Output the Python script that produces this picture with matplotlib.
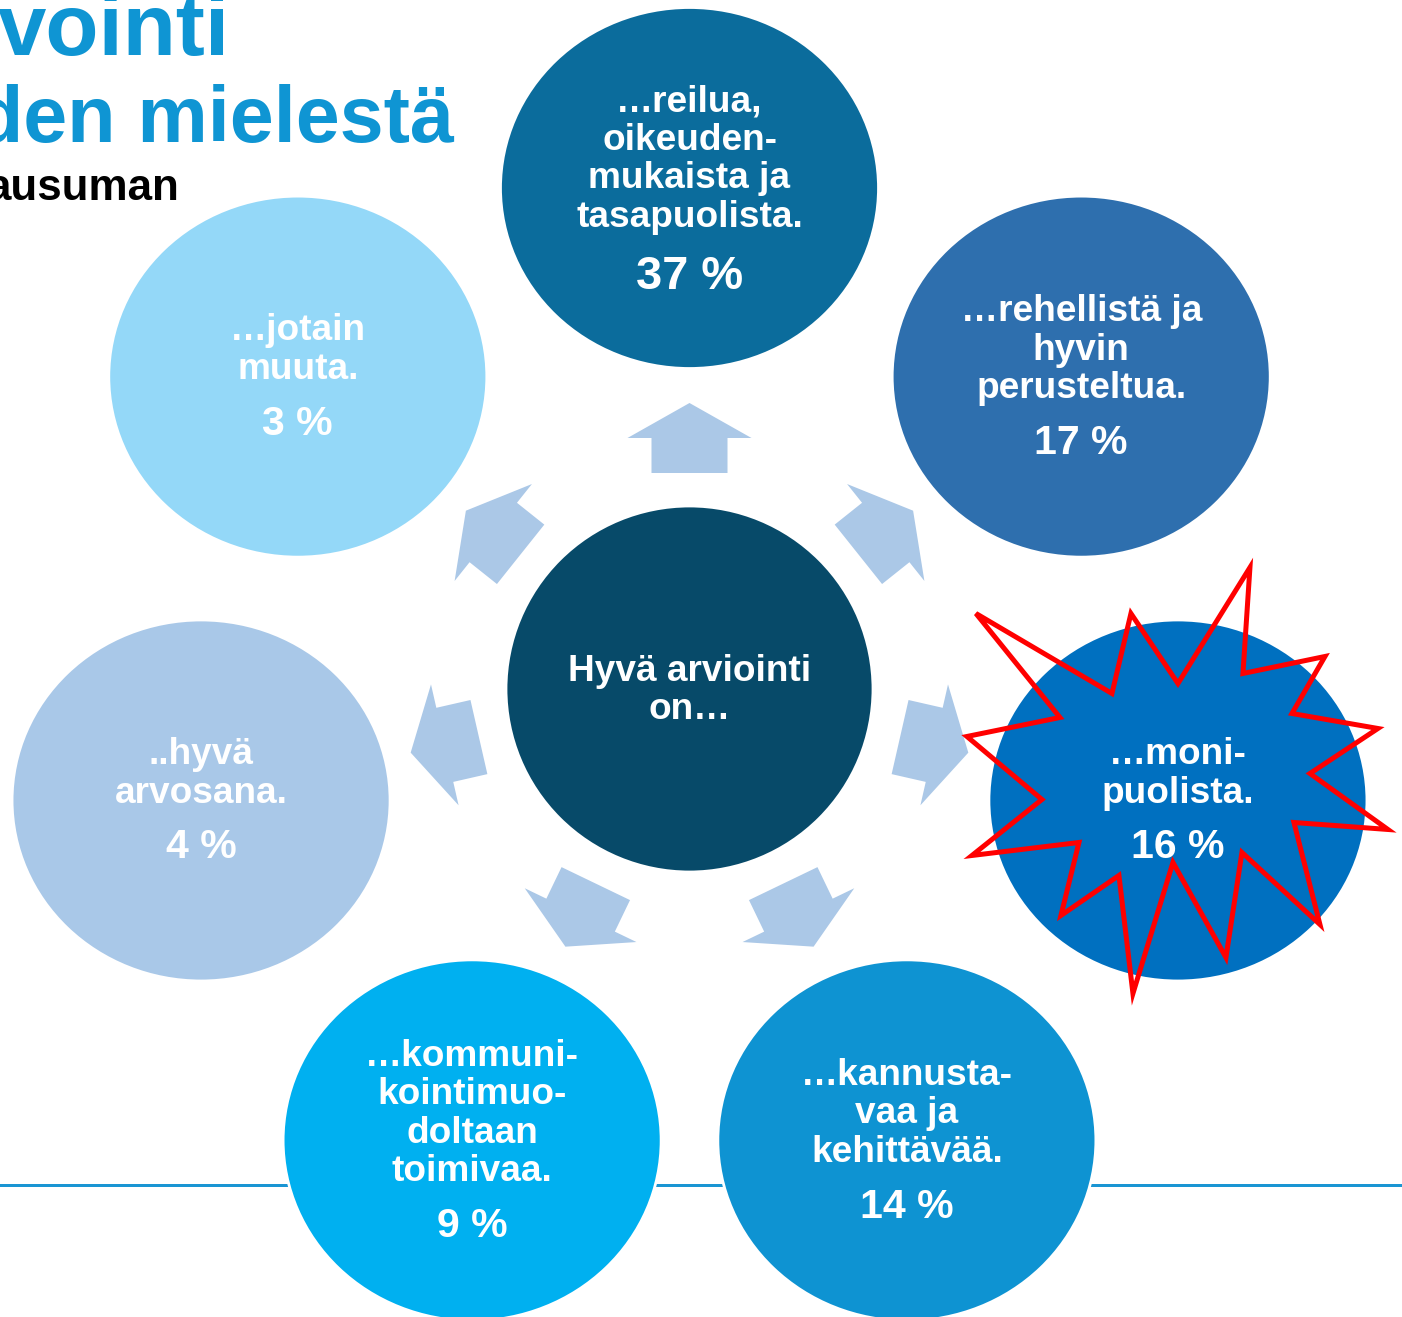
import numpy as np
import matplotlib.pyplot as plt
from matplotlib.patches import Ellipse, Polygon

plt.rcParams['font.family'] = ['Liberation Sans', 'DejaVu Sans']

# data
labels = [
    ["…reilua,", "oikeuden-", "mukaista ja", "tasapuolista."],
    ["…rehellistä ja", "hyvin", "perusteltua."],
    ["…moni-", "puolista."],
    ["…kannusta-", "vaa ja", "kehittävää."],
    ["…kommuni-", "kointimuo-", "doltaan", "toimivaa."],
    ["..hyvä", "arvosana."],
    ["…jotain", "muuta."],
]
percents = [37, 17, 16, 14, 9, 4, 3]
colors = ["#0b6c9c", "#2e6fae", "#0070c0", "#0e93d2", "#00b0f0", "#a9c8e8", "#94d8f8"]
center_text = ["Hyvä arviointi", "on…"]
title_lines = ["vointi", "den mielestä"]
subtitle = "ausuman"
highlight = 2  # index of the circle with the red star

# red star outline, offsets from the highlighted circle centre
star_dx = [72, 65, 147, 114, 200, 132, 210, 116, 142, 64, 48, -5,
           -45, -59, -117, -99, -206, -136, -211, -118, -202, -66, -47, 0]
star_dy = [-233, -127, -144, -87, -72, -27, 29, 22, 124, 52, 157, 62,
           193, 75, 115, 42, 55, -1, -64, -83, -187, -107, -187, -117]

W, H = 1402, 1317
fig = plt.figure(figsize=(W / 100, H / 100), dpi=100)
ax = fig.add_axes([0, 0, 1, 1])
ax.set_xlim(0, W)
ax.set_ylim(H, 0)
ax.axis('off')

px = 0.72  # pixels -> points
cx, cy = 689.5, 689
ring = 501
n = len(labels)
angles = np.radians(90 - np.arange(n) * 360 / n)
step = 38.5

# blue rule behind the bottom circles
ax.axhline(1185, color="#1a95d3", lw=3 * px, zorder=1)

# centre circle
ax.add_patch(Ellipse((cx, cy), 367, 366, facecolor="#074a69", edgecolor="white", lw=2, zorder=3))
for i, t in enumerate(center_text):
    y = cy - 2 - step / 2 + i * step
    ax.text(cx, y + 13, t, color="white", fontsize=37 * px, fontweight="bold",
            ha="center", va="baseline", zorder=4)

arrow_col = "#abc8e7"
# arrow outline in (radial, across) pixels
arrow_local = [(216, -38), (251, -38), (251, -62), (286, 0), (251, 62), (251, 38), (216, 38)]
for k in range(n):
    a = angles[k]
    ux, uy = np.cos(a), -np.sin(a)
    vx, vy = -uy, ux
    pts = [(cx + r * ux + w * vx, cy + r * uy + w * vy) for r, w in arrow_local]
    ax.add_patch(Polygon(pts, closed=True, facecolor=arrow_col, edgecolor="none", zorder=2))

    # outer circle
    ox, oy = cx + ring * np.cos(a), cy - ring * np.sin(a)
    ax.add_patch(Ellipse((ox, oy), 378, 361, facecolor=colors[k], edgecolor="white", lw=2, zorder=2))

    pct_px = 47 if percents[k] == max(percents) else 41
    gap = 24 + 0.73 * pct_px
    lines = labels[k]
    total = (len(lines) - 1) * step + gap
    y0 = oy - 3 - total / 2
    for j, t in enumerate(lines):
        ax.text(ox, y0 + j * step + 13, t, color="white", fontsize=37 * px,
                fontweight="bold", ha="center", va="baseline", zorder=4)
    ax.text(ox, y0 + total + 0.36 * pct_px, f"{percents[k]} %", color="white",
            fontsize=pct_px * px, fontweight="bold", ha="center", va="baseline", zorder=4)

    if k == highlight:
        sx = [ox + d for d in star_dx]
        sy = [oy + d for d in star_dy]
        ax.add_patch(Polygon(list(zip(sx, sy)), closed=True, facecolor="none",
                             edgecolor="#ff0000", lw=5 * px, joinstyle="miter", zorder=5))

# cropped title in the top-left corner
title_col = "#0f95d3"
ax.text(230, 55, title_lines[0], color=title_col, fontsize=87 * px, fontweight="bold",
        ha="right", va="baseline", zorder=4)
ax.text(454, 142, title_lines[1], color=title_col, fontsize=79 * px, fontweight="bold",
        ha="right", va="baseline", zorder=4)
ax.text(180, 200, subtitle, color="black", fontsize=44 * px, fontweight="bold",
        ha="right", va="baseline", zorder=4)

fig.savefig("out.png", dpi=100)
